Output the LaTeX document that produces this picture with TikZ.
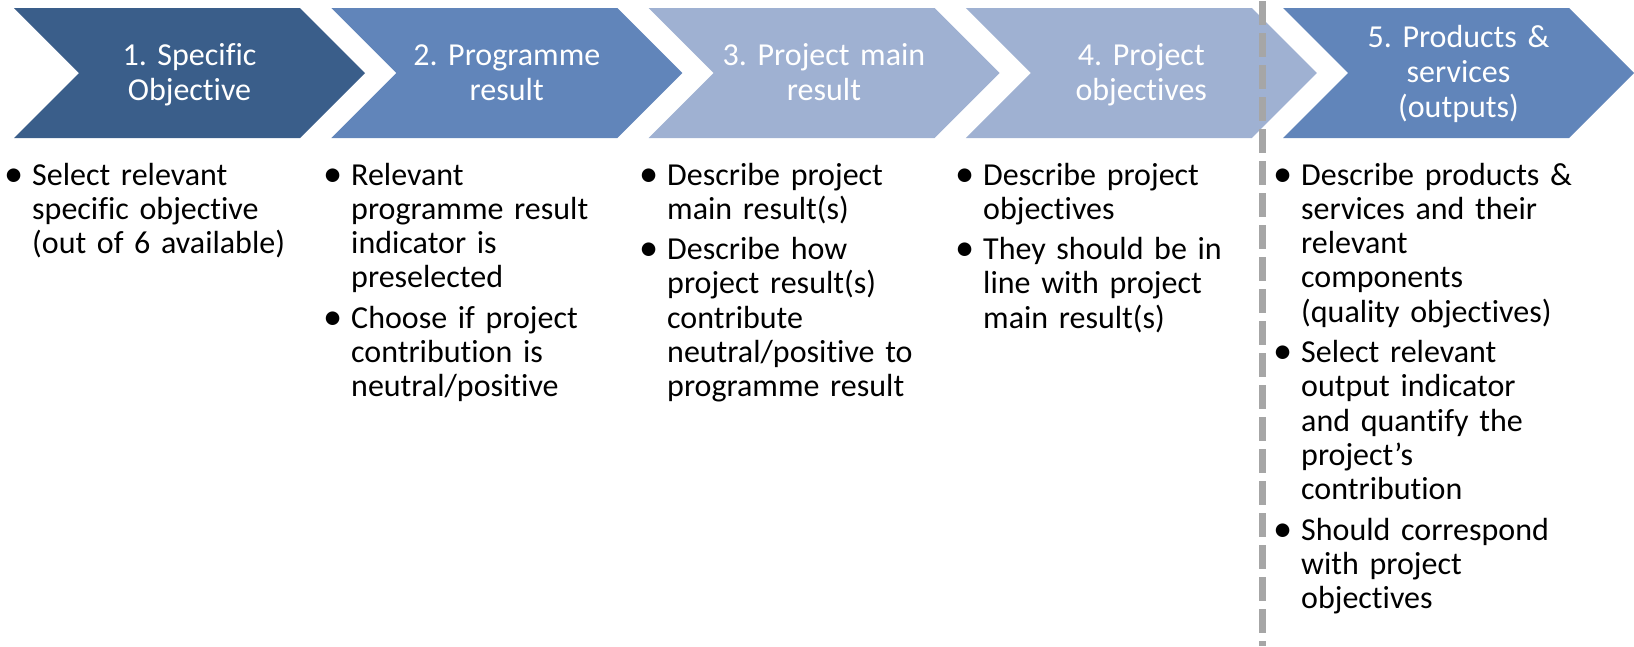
\documentclass[tikz,border=0pt]{standalone}
\usepackage{fontspec}
\setmainfont{Carlito}[Ligatures=NoCommon]
\definecolor{darkblue}{HTML}{3A5E8A}
\definecolor{midblue}{HTML}{6185BA}
\definecolor{paleblue}{HTML}{9FB1D2}
\definecolor{dashgray}{HTML}{A6A6A6}
\frenchspacing
% keep t-i and f-i apart (no ligature)
\newcommand{\tsplit}{t\kern0pt i}
\newcommand{\fsplit}{f\kern0pt i}
% bullet item with hanging bullet
\newcommand{\bitem}[1]{\setlength{\parskip}{6pt}\noindent\llap{\raisebox{-1pt}{\scalebox{1.2}{\textbullet}}\hspace{9pt}}#1\par}

\begin{document}
\begin{tikzpicture}[x=1pt, y=-1pt,
    headtext/.style={text=white, text width=230pt, align=center, inner sep=0pt, anchor=base,
      font=\fontsize{32}{35}\selectfont},
    bodytext/.style={text width=300pt, align=left, inner sep=0pt, anchor=base west,
      font=\fontsize{32}{34.3}\selectfont}]
  \useasboundingbox (0,0) rectangle (1634,646);

  % Chevrons with their headings
  \foreach \i/\col/\lab/\base in {1/darkblue/{1. Speci\fsplit{}c\\Objec\tsplit{}ve}/65,
      2/midblue/{2. Programme\\result}/65,
      3/paleblue/{3. Project main\\result}/65,
      4/paleblue/{4. Project\\objec\tsplit{}ves}/65,
      5/midblue/{5. Products \&\\services\\(outputs)}/47}{
    \pgfmathsetmacro\l{14+317.25*(\i-1)}
    \fill[\col] (\l,8) -- ++(286,0) -- ++(65,65) -- ++(-65,65) -- ++(-286,0) -- ++(65,-65) -- cycle;
    \node[headtext] (head\i) at (\l+175.5,\base) {\lab};
  }

  % Bullet lists below the chevrons
  \node[bodytext] (body1) at (32,185) {\bitem{Select relevant\\speci\fsplit{}c objec\tsplit{}ve\\(out of 6 available)}};
  \node[bodytext] (body2) at (351,185) {\bitem{Relevant\\programme result\\indicator is\\preselected}%
    \bitem{Choose if project\\contribu\tsplit{}on is\\neutral/posi\tsplit{}ve}};
  \node[bodytext] (body3) at (667,185) {\bitem{Describe project\\main result(s)}%
    \bitem{Describe how\\project result(s)\\contribute\\neutral/posi\tsplit{}ve to\\programme result}};
  \node[bodytext] (body4) at (983,185) {\bitem{Describe project\\objec\tsplit{}ves}%
    \bitem{They should be in\\line with project\\main result(s)}};
  \node[bodytext] (body5) at (1301,185) {\bitem{Describe products \&\\services and their\\relevant\\components\\(quality objec\tsplit{}ves)}%
    \bitem{Select relevant\\output indicator\\and quan\tsplit{}fy the\\project’s\\contribu\tsplit{}on}%
    \bitem{Should correspond\\with project\\objec\tsplit{}ves}};

  % Dashed separator
  \coordinate (cuttop) at (1262,1);
  \coordinate (cutbot) at (1262,646);
  \draw[dashgray, line width=7pt, dash pattern=on 24pt off 8pt] (cuttop) -- (cutbot);
\end{tikzpicture}
\end{document}
